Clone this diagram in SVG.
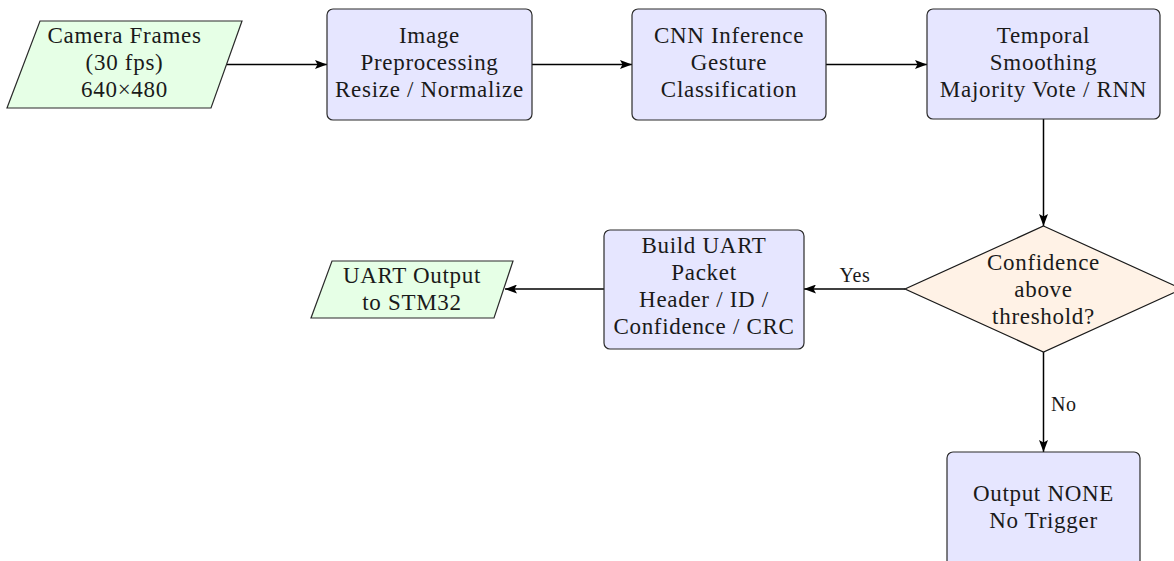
<svg xmlns="http://www.w3.org/2000/svg" width="1174" height="561" viewBox="0 0 1174 561">
  <style>
    .proc { fill: #e6e6ff; stroke: #2b2b2b; stroke-width: 1.2; }
    .io { fill: #e6ffe6; stroke: #2b2b2b; stroke-width: 1.2; }
    .dec { fill: #fff2e6; stroke: #1a1a1a; stroke-width: 1.2; }
    .lbl { font-family: "Liberation Serif", "DejaVu Serif", serif; font-size: 23px; letter-spacing: 0.7px; fill: #1a1a1a; text-anchor: middle; }
    .edge-lbl { font-family: "Liberation Serif", "DejaVu Serif", serif; font-size: 20px; letter-spacing: 0.6px; fill: #1a1a1a; }
    .conn { stroke: #000; stroke-width: 1.5; fill: none; marker-end: url(#arrow); }
  </style>
  <defs>
    <marker id="arrow" viewBox="0 0 12 9" refX="12" refY="4.5" markerWidth="12" markerHeight="9" markerUnits="userSpaceOnUse" orient="auto">
      <path d="M0,0 L12,4.5 L0,9 L2.5,4.5 Z" fill="#000"/>
    </marker>
  </defs>

  <g id="connectors">
    <line class="conn" x1="226.5" y1="64.5" x2="327" y2="64.5"/>
    <line class="conn" x1="532" y1="64.5" x2="632" y2="64.5"/>
    <line class="conn" x1="826" y1="64.5" x2="927" y2="64.5"/>
    <line class="conn" x1="1043.5" y1="119" x2="1043.5" y2="226"/>
    <line class="conn" x1="905" y1="289" x2="804" y2="289"/>
    <line class="conn" x1="604" y1="289" x2="505" y2="289"/>
    <line class="conn" x1="1043.5" y1="352" x2="1043.5" y2="452"/>
    <text class="edge-lbl" x="855" y="282" text-anchor="middle">Yes</text>
    <text class="edge-lbl" x="1051" y="411">No</text>
  </g>

  <g id="camera-frames">
    <polygon class="io" points="40,21 242,21 211,108 7,108"/>
    <text class="lbl" x="124.5" y="43">Camera Frames</text>
    <text class="lbl" x="124.5" y="70">(30 fps)</text>
    <text class="lbl" x="124.5" y="97">640×480</text>
  </g>

  <g id="preprocessing">
    <rect class="proc" x="327" y="9" width="205" height="111" rx="6"/>
    <text class="lbl" x="429.5" y="43">Image</text>
    <text class="lbl" x="429.5" y="70">Preprocessing</text>
    <text class="lbl" x="429.5" y="97">Resize / Normalize</text>
  </g>

  <g id="cnn-inference">
    <rect class="proc" x="632" y="9" width="194" height="111" rx="6"/>
    <text class="lbl" x="729" y="43">CNN Inference</text>
    <text class="lbl" x="729" y="70">Gesture</text>
    <text class="lbl" x="729" y="97">Classification</text>
  </g>

  <g id="temporal-smoothing">
    <rect class="proc" x="927" y="9" width="233" height="110" rx="6"/>
    <text class="lbl" x="1043.5" y="43">Temporal</text>
    <text class="lbl" x="1043.5" y="70">Smoothing</text>
    <text class="lbl" x="1043.5" y="97">Majority Vote / RNN</text>
  </g>

  <g id="confidence-check">
    <polygon class="dec" points="1043.5,226 1182,289 1043.5,352 905,289"/>
    <text class="lbl" x="1043.5" y="270">Confidence</text>
    <text class="lbl" x="1043.5" y="297">above</text>
    <text class="lbl" x="1043.5" y="324">threshold?</text>
  </g>

  <g id="build-packet">
    <rect class="proc" x="604" y="230" width="200" height="119" rx="6"/>
    <text class="lbl" x="704" y="253">Build UART</text>
    <text class="lbl" x="704" y="280">Packet</text>
    <text class="lbl" x="704" y="307">Header / ID /</text>
    <text class="lbl" x="704" y="334">Confidence / CRC</text>
  </g>

  <g id="uart-output">
    <polygon class="io" points="332,261 513,261 494,318 311,318"/>
    <text class="lbl" x="412" y="283">UART Output</text>
    <text class="lbl" x="412" y="310">to STM32</text>
  </g>

  <g id="output-none">
    <rect class="proc" x="947" y="452" width="193" height="117" rx="6"/>
    <text class="lbl" x="1043.5" y="501">Output NONE</text>
    <text class="lbl" x="1043.5" y="528">No Trigger</text>
  </g>
</svg>
